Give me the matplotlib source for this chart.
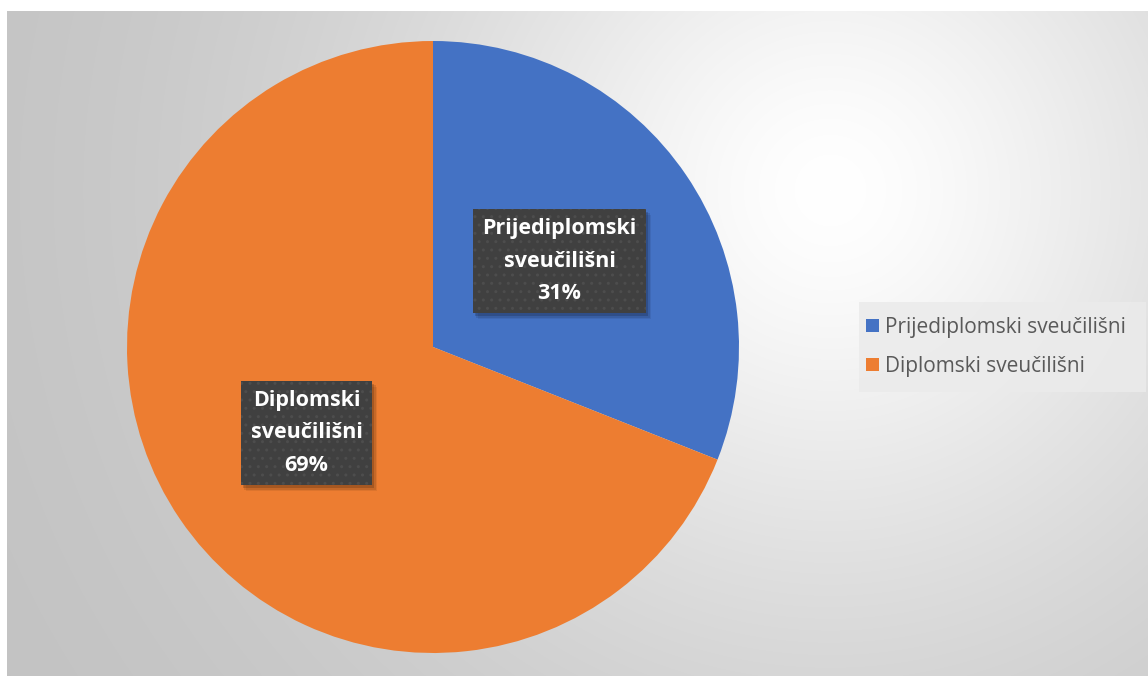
import numpy as np
import matplotlib
matplotlib.use('Agg')
import matplotlib.pyplot as plt
from matplotlib.patches import Rectangle
from matplotlib.transforms import IdentityTransform

# podaci
kategorije = ['Prijediplomski sveučilišni', 'Diplomski sveučilišni']
oznake = ['Prijediplomski\nsveučilišni', 'Diplomski\nsveučilišni']
postotci = [31, 69]
boje = ['#4472C4', '#ED7D31']

plt.rcParams['font.family'] = ['Open Sans', 'DejaVu Sans']

W, H = 1148, 676
fig = plt.figure(figsize=(W / 100, H / 100), dpi=100)
fig.patch.set_facecolor('white')

# pozadina s radijalnim prijelazom
bg = fig.add_axes([0, 0, 1, 1])
xx, yy = np.meshgrid(np.arange(W), np.arange(H))
d = np.hypot(xx - 830, yy - 190) / 950
v = (255 - 63 * (1 - np.exp(-(d / 0.5) ** 1.6))) / 255
img = np.dstack([v, v, v])
img[:11, :, :] = 1.0
img[:, :7, :] = 1.0
bg.imshow(img, extent=[0, W, H, 0], aspect='auto', interpolation='bilinear')
bg.set_xlim(0, W)
bg.set_ylim(H, 0)
bg.axis('off')
# okvir legende
bg.add_patch(Rectangle((859, 302), 287, 90, facecolor='#ebebeb',
                       edgecolor='none', alpha=0.85))

# pita
ax = fig.add_axes([127 / W, (H - 653) / H, 612 / W, 612 / H])
wedges, texts = ax.pie(
    postotci,
    colors=boje,
    startangle=90,
    counterclock=False,
    radius=1,
    labels=[f'{o}\n{p}%' for o, p in zip(oznake, postotci)],
    labeldistance=0.5,
    textprops=dict(color='white', fontsize=15.5, fontweight='bold',
                   ha='center', va='center', linespacing=1.7),
    wedgeprops=dict(linewidth=0),
)
ax.set_xlim(-1, 1)
ax.set_ylim(-1, 1)
ax.set_aspect('equal')

for t in texts:
    t.set_horizontalalignment('center')
    t.set_multialignment('center')
    t.set_zorder(5)
    t.set_bbox(dict(boxstyle='square,pad=0.45', facecolor='#404040',
                    edgecolor='#4d4d4d', linewidth=0, hatch='..'))

leg = fig.legend(wedges, kategorije, loc='center left',
                 bbox_to_anchor=(866 / W, 1 - 347 / H),
                 frameon=False, fontsize=15, handlelength=0.6,
                 handleheight=0.6, handletextpad=0.3, labelspacing=0.85,
                 borderpad=0, borderaxespad=0)
for tx in leg.get_texts():
    tx.set_color('#595959')

# sjene okvira oznaka
fig.canvas.draw()
for t in texts:
    bb = t.get_bbox_patch().get_window_extent()
    for k, a in [(6, 0.07), (4.5, 0.1), (3, 0.16)]:
        ax.add_patch(Rectangle((bb.x0 + k - 1, bb.y0 - k), bb.width, bb.height,
                               transform=IdentityTransform(), clip_on=False,
                               facecolor='black', edgecolor='none',
                               alpha=a, zorder=4))

fig.savefig('out.png', dpi=100)
